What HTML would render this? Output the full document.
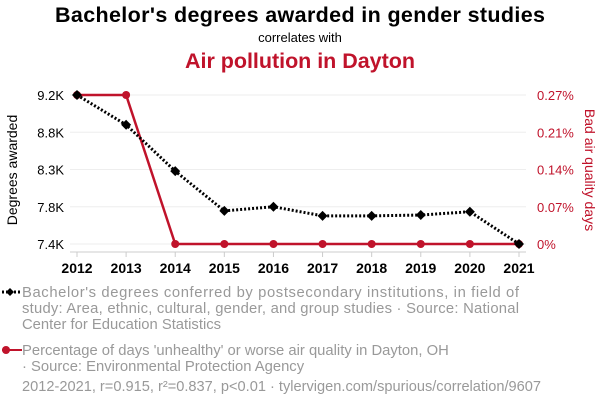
<!DOCTYPE html>
<html><head><meta charset="utf-8"><style>
body{margin:0;background:#fff;font-family:"Liberation Sans",sans-serif;}
svg text{font-family:"Liberation Sans",sans-serif;}
</style></head><body>
<svg id="c" width="600" height="408" xmlns="http://www.w3.org/2000/svg">
<text x="300" y="22" text-anchor="middle" font-size="21.5" font-weight="bold" fill="#000" textLength="490">Bachelor's degrees awarded in gender studies</text>
<text x="300" y="42" text-anchor="middle" font-size="13" fill="#000">correlates with</text>
<text x="300" y="68" text-anchor="middle" font-size="21.5" font-weight="bold" fill="#c0132b" textLength="230">Air pollution in Dayton</text>
<text transform="translate(17,170) rotate(-90)" text-anchor="middle" font-size="14" fill="#000">Degrees awarded</text>
<text transform="translate(585,170) rotate(90)" text-anchor="middle" font-size="14" fill="#c0132b">Bad air quality days</text>
<g id="grid"></g><g id="axes"></g><g id="series"></g>
<g font-size="14.8" fill="#aaa">
<line x1="2" y1="292" x2="22" y2="292" stroke="#000" stroke-width="3" stroke-dasharray="2,2"/>
<path d="M6,292 L10,288 L14,292 L10,296Z" fill="#000"/>
<text x="22" y="297" fill="#999"><tspan x="22" textLength="497">Bachelor's degrees conferred by postsecondary institutions, in field of</tspan><tspan x="22" dy="16" textLength="497">study: Area, ethnic, cultural, gender, and group studies · Source: National</tspan><tspan x="22" dy="16">Center for Education Statistics</tspan></text>
<line x1="2" y1="350" x2="22" y2="350" stroke="#c0132b" stroke-width="2"/>
<circle cx="6" cy="350" r="4" fill="#c0132b"/>
<text x="22" y="355" fill="#999"><tspan x="22">Percentage of days 'unhealthy' or worse air quality in Dayton, OH</tspan><tspan x="22" dy="16">· Source: Environmental Protection Agency</tspan></text>
<text x="22" y="391" fill="#999" font-size="14.6" textLength="519">2012-2021, r=0.915, r²=0.837, p&lt;0.01 · tylervigen.com/spurious/correlation/9607</text>
</g>
</svg>
<script>
const years=[2012,2013,2014,2015,2016,2017,2018,2019,2020,2021];
const degrees=[9200,8840,8280,7800,7850,7740,7740,7750,7790,7400];
const air=[0.27,0.27,0,0,0,0,0,0,0,0];
const leftTicks=[9200,8750,8300,7850,7400];
const leftLabels=["9.2K","8.8K","8.3K","7.8K","7.4K"];
const rightTicks=[0.27,0.2025,0.135,0.0675,0];
const rightLabels=["0.27%","0.21%","0.14%","0.07%","0%"];
const NS="http://www.w3.org/2000/svg";
const x=i=>77+(519-77)*(years[i]-2012)/9;
const yL=v=>244-(v-7400)/(9200-7400)*149;
const yR=v=>244-v/0.27*149;
function mk(t,a,p){const e=document.createElementNS(NS,t);for(const k in a)e.setAttribute(k,a[k]);p.appendChild(e);return e;}
const grid=document.getElementById('grid'),axes=document.getElementById('axes'),ser=document.getElementById('series');
leftTicks.forEach((v,i)=>{
 const g=mk('line',{x1:70,x2:526,y1:yL(v),y2:yL(v),stroke:'#eee','stroke-width':1},grid);
 
 
 const t=mk('text',{x:64,y:yL(v)+5,'text-anchor':'end','font-size':13,fill:'#000'},axes);t.textContent=leftLabels[i];
 
 
});
rightTicks.forEach((v,i)=>{
 const t=mk('text',{x:537,y:yR(v)+5,'font-size':13,fill:'#c0132b'},axes);t.textContent=rightLabels[i];
 
 
});
const ax=mk('line',{x1:70,x2:526,y1:252,y2:252,stroke:'#ccc'},axes);


years.forEach((yr,i)=>{
 mk('line',{x1:x(i),x2:x(i),y1:252,y2:257,stroke:'#ccc'},axes);
 const t=mk('text',{x:x(i),y:273,'text-anchor':'middle','font-size':14,'font-weight':'bold',fill:'#000'},axes);t.textContent=yr;
 
 
});
const rl=mk('polyline',{points:air.map((v,i)=>x(i)+','+yR(v)).join(' '),fill:'none',stroke:'#c0132b','stroke-width':2.5},ser);


air.forEach((v,i)=>{const c=mk('circle',{cx:x(i),cy:yR(v),r:4,fill:'#c0132b'},ser);
 
 });
const bl=mk('polyline',{points:degrees.map((v,i)=>x(i)+','+yL(v)).join(' '),fill:'none',stroke:'#000','stroke-width':3,'stroke-dasharray':'2,2'},ser);


degrees.forEach((v,i)=>{const X=x(i),Y=yL(v);const p=mk('path',{d:`M${X-5},${Y} L${X},${Y-5} L${X+5},${Y} L${X},${Y+5}Z`,fill:'#000'},ser);
 
 });
</script>
</body></html>
